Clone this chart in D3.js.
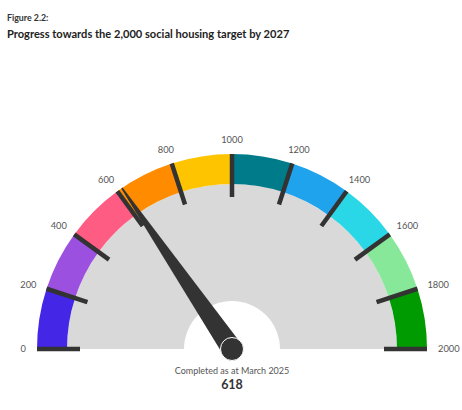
<!DOCTYPE html>
<html><head><meta charset="utf-8">
<script src="https://cdn.jsdelivr.net/npm/d3@7"></script>
<style>body{margin:0;background:#fff;}svg{display:block;font-family:Lato,sans-serif;}</style>
</head><body>
<svg id="c" width="462" height="410"></svg>
<script>
const figureLabel = "Figure 2.2:";
const title = "Progress towards the 2,000 social housing target by 2027";
const valueLabel = "Completed as at March 2025";
const completed = 618;
const target = 2000;
const tickValues = [0,200,400,600,800,1000,1200,1400,1600,1800,2000];
const segmentStarts = [0,200,400,600,800,1000,1200,1400,1600,1800];
const segmentEnds = [200,400,600,800,1000,1200,1400,1600,1800,2000];
const segmentColors = ["#4426E6","#9B50E0","#FF5C83","#FF8C00","#FFC400","#007B8A","#1FA3EC","#2AD7E6","#88E89A","#009B00"];

const svg = d3.select("#c");
const cx = 232, cy = 349, R = 195, bandW = 30, innerR = 48;
const angle = d3.scaleLinear().domain([0, target]).range([-Math.PI/2, Math.PI/2]);

svg.append("text").attr("x",7).attr("y",21).attr("font-size",8.8).attr("font-weight",700).attr("fill","#333").text(figureLabel);
svg.append("text").attr("x",7).attr("y",38).attr("font-size",11.1).attr("font-weight",700).attr("fill","#222").text(title);

const g = svg.append("g").attr("transform",`translate(${cx},${cy})`);

g.append("path").attr("d", d3.arc()({innerRadius: innerR, outerRadius: R - bandW, startAngle: -Math.PI/2, endAngle: Math.PI/2})).attr("fill","#d9d9d9");

g.selectAll("path.seg").data(segmentStarts).join("path").attr("class","seg")
  .attr("d",(d,i)=>d3.arc()({innerRadius:R-bandW, outerRadius:R, startAngle:angle(d), endAngle:angle(segmentEnds[i])}))
  .attr("fill",(d,i)=>segmentColors[i]);

const tickIn = 152;
g.selectAll("line.tick").data(tickValues).join("line")
  .attr("x1",d=>tickIn*Math.sin(angle(d))).attr("y1",d=>-tickIn*Math.cos(angle(d)))
  .attr("x2",d=>R*Math.sin(angle(d))).attr("y2",d=>-R*Math.cos(angle(d)))
  .attr("stroke","#333").attr("stroke-width",4.5);

const labR = 206, halfH = 3.2;
g.selectAll("text.tl").data(tickValues).join("text").attr("class","tl")
  .attr("text-anchor","middle").attr("dy","0.35em").attr("font-size",9.3).attr("fill","#555")
  .text(d=>d)
  .each(function(d){
    const w = this.getComputedTextLength();
    const s = Math.sin(angle(d)), c = Math.cos(angle(d));
    d3.select(this).attr("x", labR*s + s*w/2).attr("y", -labR*c - c*halfH);
  });

const a = angle(completed);
const ux = Math.sin(a), uy = -Math.cos(a), px = -uy, py = ux;
const baseW = 10.5, tipW = 0.8, tipR = 195;
const pts = [[px*baseW, py*baseW],[ux*tipR+px*tipW, uy*tipR+py*tipW],[ux*tipR-px*tipW, uy*tipR-py*tipW],[-px*baseW,-py*baseW]];
g.append("path").attr("d", d3.line()(pts)+"Z").attr("fill","#333");
g.append("circle").attr("r",11.5).attr("fill","#333").attr("stroke","#fff").attr("stroke-width",1);

svg.append("text").attr("x",cx).attr("y",374).attr("text-anchor","middle").attr("font-size",9).attr("fill","#555").text(valueLabel);
svg.append("text").attr("x",cx).attr("y",389).attr("text-anchor","middle").attr("font-size",12.5).attr("font-weight",700).attr("fill","#333").text(completed);
</script>
</body></html>
